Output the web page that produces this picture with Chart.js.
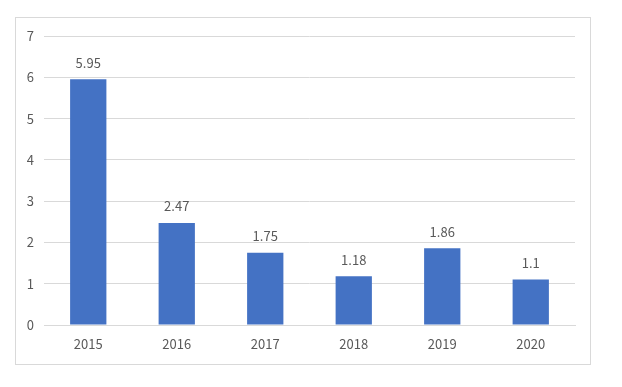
<!DOCTYPE html>
<html>
<head>
<meta charset="utf-8">
<script src="https://cdn.jsdelivr.net/npm/chart.js@4/dist/chart.umd.min.js"></script>
<style>
html,body{margin:0;padding:0;background:#fff;}
#wrap{width:622px;height:387px;position:relative;}
</style>
</head>
<body>
<div id="wrap"><canvas id="c" width="622" height="387"></canvas></div>
<script>
const categories = ['2015','2016','2017','2018','2019','2020'];
const values = [5.95, 2.47, 1.75, 1.18, 1.86, 1.1];
const yTicks = [0,1,2,3,4,5,6,7];

const FONT = '"Noto Sans CJK SC", "Noto Sans", sans-serif';
const TXT = '#595959';

const framePlugin = {
  id: 'frame',
  beforeDraw(chart) {
    const ctx = chart.ctx;
    ctx.save();
    ctx.fillStyle = '#fff';
    ctx.fillRect(0,0,chart.width,chart.height);
    ctx.strokeStyle = '#d9d9d9';
    ctx.lineWidth = 1;
    ctx.strokeRect(15.5, 17.5, 575, 347);
    ctx.restore();
  }
};

const labelPlugin = {
  id: 'barLabels',
  afterDatasetsDraw(chart) {
    const ctx = chart.ctx;
    const meta = chart.getDatasetMeta(0);
    ctx.save();
    ctx.font = '13px ' + FONT;
    ctx.fillStyle = TXT;
    ctx.textAlign = 'center';
    ctx.textBaseline = 'bottom';
    meta.data.forEach((bar, i) => {
      ctx.fillText(String(chart.data.datasets[0].data[i]), bar.x, bar.y - 10);
    });
    ctx.restore();
  }
};

new Chart(document.getElementById('c'), {
  type: 'bar',
  data: {
    labels: categories,
    datasets: [{
      data: values,
      backgroundColor: '#4472C4',
      categoryPercentage: 1,
      barPercentage: 0.41
    }]
  },
  options: {
    responsive: false,
    animation: false,
    layout: { padding: { left: 0, right: 47, top: 36, bottom: 0 } },
    plugins: { legend: { display: false }, tooltip: { enabled: false } },
    scales: {
      x: {
        grid: { display: false },
        border: { display: true, color: '#d9d9d9' },
        ticks: { color: TXT, font: { family: FONT, size: 13 }, padding: 3 },
        afterFit(scale) { scale.height = 62; }
      },
      y: {
        min: 0, max: 7,
        afterBuildTicks(scale) { scale.ticks = yTicks.map(v => ({ value: v })); },
        grid: { color: '#d9d9d9', drawTicks: false },
        border: { display: false },
        ticks: { color: TXT, font: { family: FONT, size: 13 }, padding: 10 },
        afterFit(scale) { scale.width = 44; }
      }
    }
  },
  plugins: [framePlugin, labelPlugin]
});
</script>
</body>
</html>
